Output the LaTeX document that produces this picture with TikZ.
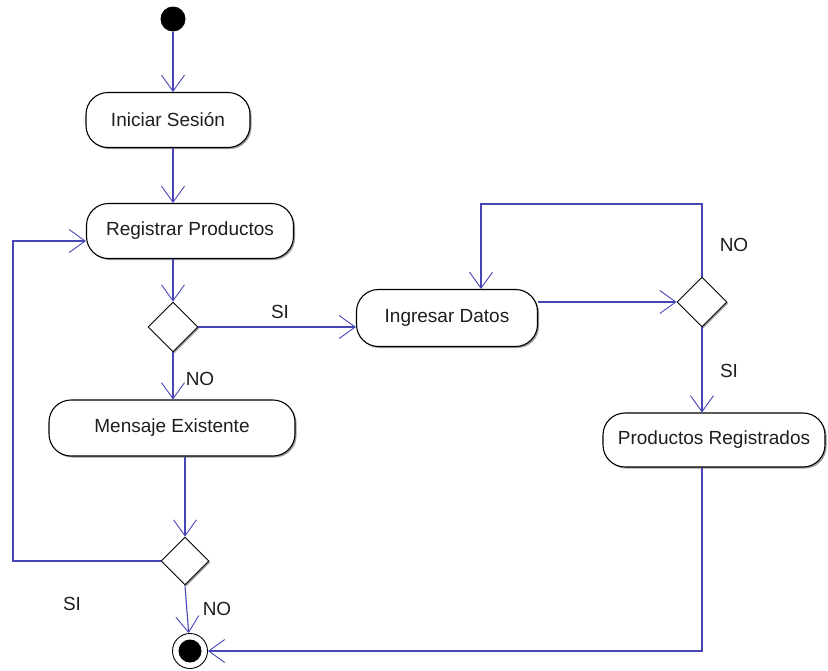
\documentclass[tikz,border=0pt]{standalone}
\usepackage{fontspec}
\setmainfont{Liberation Sans}
\usetikzlibrary{arrows.meta,shapes.geometric,shadows}

\definecolor{flowblue}{RGB}{70,70,182}
\definecolor{textgray}{RGB}{30,30,30}

\tikzset{
  activity/.style={rectangle, rounded corners=22pt, draw=black, line width=1.1pt,
    fill=white, inner sep=0pt, text=textgray,
    drop shadow={shadow xshift=1.6pt, shadow yshift=-1.6pt, fill=black!55, opacity=0.7}},
  decision/.style={diamond, aspect=1, draw=black, line width=0.9pt, fill=white,
    inner sep=0pt, minimum size=50pt,
    drop shadow={shadow xshift=1.4pt, shadow yshift=-1.4pt, fill=black!55, opacity=0.7}},
  flow/.style={draw=flowblue, line width=1.1pt,
    -{Straight Barb[length=16pt, width=23pt, line width=0.9pt]}},
  guard/.style={text=textgray, inner sep=0pt},
}

\begin{document}
\begin{tikzpicture}[x=1pt, y=-1pt, font=\fontsize{19}{21}\selectfont]
  \useasboundingbox (0,0) rectangle (828,670);

  % start and end states
  \node[circle, fill=black, minimum size=25pt, inner sep=0pt] (start) at (173,19) {};
  \node[circle, draw=black, line width=0.9pt, fill=white, minimum size=35pt, inner sep=0pt] (final) at (190,651) {};
  \node[circle, fill=black, minimum size=23pt, inner sep=0pt] (finaldot) at (final.center) {};

  % activities
  \node[activity, minimum width=164pt, minimum height=55pt] (iniciar) at (168,120) {Iniciar Sesión};
  \node[activity, minimum width=207pt, minimum height=55pt] (registrar) at (190,231) {Registrar Productos};
  \node[activity, minimum width=246pt, minimum height=56pt] (mensaje) at (172,428) {Mensaje Existente};
  \node[activity, minimum width=181pt, minimum height=57pt] (ingresar) at (447,318) {Ingresar Datos};
  \node[activity, minimum width=222pt, minimum height=54pt] (productos) at (714,440) {Productos Registrados};

  % decisions
  \node[decision] (d1) at (173,327) {};
  \node[decision, minimum size=48pt] (d3) at (185,561) {};
  \node[decision] (d2) at (702,302) {};

  % routing points
  \coordinate (loopleft) at (13,241);
  \coordinate (regin) at (registrar.west |- loopleft);
  \coordinate (looptop) at (481,204);

  % main flow
  \draw[flow] (start) -- (start |- iniciar.north);
  \draw[flow] (iniciar.south -| start) -- (registrar.north -| start);
  \draw[flow] (registrar.south -| d1) -- (d1.north);
  \draw[flow] (d1.east) -- (ingresar.west |- d1.east);
  \draw[flow] (d1.south) -- (mensaje.north -| d1);
  \draw[flow] (mensaje.south -| d3) -- (d3.north);
  \draw[flow] (d3.west) -| (loopleft) -- (regin);
  \draw[flow] (d3.south) -- (final);

  \draw[flow] (ingresar.east |- d2.west) -- (d2.west);
  \draw[flow] (d2.north) |- (looptop) -- (looptop |- ingresar.north);
  \draw[flow] (d2.south) -- (productos.north -| d2);
  \draw[flow] (productos.south -| d2) |- (final.east);

  % guards
  \node[guard] (gsi1) at (280,312) {SI};
  \node[guard] (gno1) at (200,379) {NO};
  \node[guard] (gsi3) at (72,604) {SI};
  \node[guard] (gno3) at (217,609) {NO};
  \node[guard] (gno2) at (734,245) {NO};
  \node[guard] (gsi2) at (729,371) {SI};
\end{tikzpicture}
\end{document}
